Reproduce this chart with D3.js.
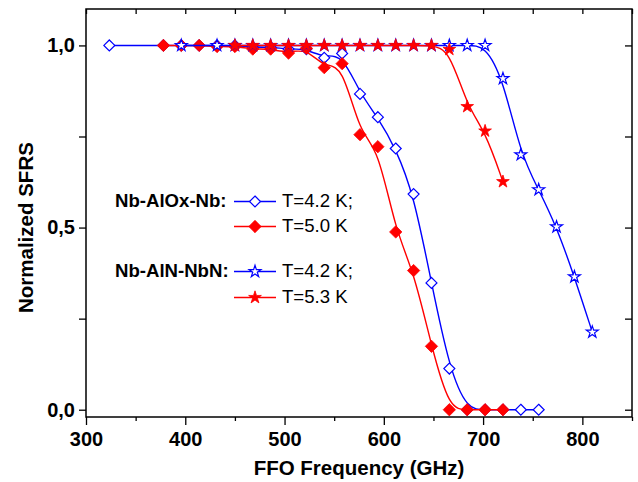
<!DOCTYPE html>
<html>
<head>
<meta charset="utf-8">
<script src="https://cdn.jsdelivr.net/npm/d3@7"></script>
<style>
  body { margin: 0; background: #fff; }
  text { font-family: Arial, 'Liberation Sans', sans-serif; fill: #000; }
</style>
</head>
<body>
<div id="chart"></div>
<script>
// Nb-AlOx-Nb, T=4.2 K
const freqAlOx42 = [323.5, 378, 396, 414, 432, 450, 468, 486, 504, 522, 540, 558,
  576, 594, 612, 630, 648, 666, 684, 702, 720, 738, 756];
const sfrsAlOx42 = [1.0, 1.0, 1.0, 1.0, 1.0, 1.0, 0.995, 0.995, 0.99, 0.99, 0.966, 0.978,
  0.867, 0.803, 0.717, 0.592, 0.348, 0.113, 0, 0, 0, 0, 0];
// Nb-AlOx-Nb, T=5.0 K
const freqAlOx50 = [378, 396, 414, 432, 450, 468, 486, 504, 522, 540, 558,
  576, 594, 612, 630, 648, 666, 684, 702, 720];
const sfrsAlOx50 = [1.0, 1.0, 1.0, 0.997, 0.997, 0.99, 0.99, 0.979, 0.992, 0.939, 0.95,
  0.755, 0.722, 0.488, 0.382, 0.174, 0, 0, 0, 0];
// Nb-AlN-NbN, T=4.2 K
const freqAlN42 = [396, 432, 450, 468, 486, 504, 522, 540, 558, 576, 594, 612, 630,
  648, 666, 684, 702, 720, 738, 756, 774, 792, 810];
const sfrsAlN42 = [1.0, 1.0, 1.0, 1.0, 1.0, 1.0, 1.0, 1.0, 1.0, 1.0, 1.0, 1.0, 1.0,
  1.0, 1.0, 1.0, 1.0, 0.909, 0.70, 0.604, 0.502, 0.365, 0.213];
// Nb-AlN-NbN, T=5.3 K
const freqAlN53 = [450, 468, 486, 504, 522, 540, 558, 576, 594, 612, 630, 648,
  666, 684, 702, 720];
const sfrsAlN53 = [1.0, 1.0, 1.0, 1.0, 1.0, 1.0, 1.0, 1.0, 1.0, 1.0, 1.0, 1.0,
  0.989, 0.832, 0.765, 0.626];

const xTicks = [300, 400, 500, 600, 700, 800];
const xMinorTicks = [350, 450, 550, 650, 750, 850];
const yTicks = [0, 0.25, 0.5, 0.75, 1];
const yLabelTicks = [0, 0.5, 1];
const legendGroups = ['Nb-AlOx-Nb:', 'Nb-AlN-NbN:'];
const legendLabels = ['T=4.2 K;', 'T=5.0 K', 'T=4.2 K;', 'T=5.3 K'];

const w = 638;
const h = 482;
const mLeft = 86;
const mRight = 632;
const mTop = 9;
const mBottom = 417;

const blue = '#0000ff';
const red = '#ff0000';

// square rotated 45 degrees, like Origin's diamond
const diamond = {
  draw(ctx, size) {
    const r = Math.sqrt(size) / 2 * Math.SQRT2;
    ctx.moveTo(0, -r);
    ctx.lineTo(r, 0);
    ctx.lineTo(0, r);
    ctx.lineTo(-r, 0);
    ctx.closePath();
  },
};

const zip = (xs, ys) => xs.map((x, i) => ({x: x, y: ys[i]}));

const series = [
  {data: zip(freqAlOx42, sfrsAlOx42), color: blue, symbol: diamond, size: 60, filled: false},
  {data: zip(freqAlOx50, sfrsAlOx50), color: red, symbol: diamond, size: 76, filled: true},
  {data: zip(freqAlN42, sfrsAlN42), color: blue, symbol: d3.symbolStar, size: 44, filled: false},
  {data: zip(freqAlN53, sfrsAlN53), color: red, symbol: d3.symbolStar, size: 50, filled: true},
];

const x = d3.scaleLinear().domain([300, 850]).range([mLeft, mRight]);
const y = d3.scaleLinear().domain([-0.02, 1.1]).range([mBottom, mTop]);

const comma = d3.formatLocale({decimal: ',', thousands: '.', grouping: [3], currency: ['', '']});
const fmtY = comma.format('.1f');

const svg = d3.select('#chart')
    .append('svg')
    .attr('width', w)
    .attr('height', h);

// axes
const axisStyle = (g) => {
  g.select('.domain').remove();
  g.selectAll('line').attr('stroke', '#000').attr('stroke-width', 1.3);
  g.selectAll('text')
      .style('font-size', '20px')
      .style('font-weight', 'bold')
      .attr('fill', '#000');
};

svg.append('g')
    .attr('transform', 'translate(0,' + mBottom + ')')
    .call(d3.axisBottom(x).tickValues(xTicks).tickSize(8).tickPadding(7)
        .tickFormat(d3.format('d')))
    .call(axisStyle);

svg.append('g')
    .attr('transform', 'translate(0,' + mBottom + ')')
    .call(d3.axisBottom(x).tickValues(xMinorTicks).tickSize(4).tickFormat(''))
    .call(axisStyle);

svg.append('g')
    .attr('transform', 'translate(0,' + mTop + ')')
    .call(d3.axisTop(x).tickValues(xTicks.concat(xMinorTicks)).tickSize(-5).tickFormat(''))
    .call(axisStyle);

svg.append('g')
    .attr('transform', 'translate(' + mLeft + ',0)')
    .call(d3.axisLeft(y).tickValues(yTicks).tickSize(7).tickPadding(4)
        .tickFormat((d) => yLabelTicks.includes(d) ? fmtY(d) : ''))
    .call(axisStyle);

svg.append('g')
    .attr('transform', 'translate(' + mRight + ',0)')
    .call(d3.axisRight(y).tickValues(yTicks).tickSize(-7).tickFormat(''))
    .call(axisStyle);

svg.append('rect')
    .attr('x', mLeft)
    .attr('y', mTop)
    .attr('width', mRight - mLeft)
    .attr('height', mBottom - mTop)
    .attr('fill', 'none')
    .attr('stroke', '#000')
    .attr('stroke-width', 1.5);

// axis titles
svg.append('text')
    .attr('x', (mLeft + mRight) / 2)
    .attr('y', 475)
    .attr('text-anchor', 'middle')
    .style('font-size', '20.5px')
    .style('font-weight', 'bold')
    .text('FFO Frequency (GHz)');

svg.append('text')
    .attr('transform', 'translate(33,' + y(0.5) + ') rotate(-90)')
    .attr('text-anchor', 'middle')
    .style('font-size', '20.5px')
    .style('font-weight', 'bold')
    .text('Normalized SFRS');

// curves and markers
const line = d3.line()
    .x((d) => x(d.x))
    .y((d) => y(d.y))
    .curve(d3.curveBasis);

series.forEach((s) => {
  const g = svg.append('g');
  g.append('path')
      .attr('d', line(s.data))
      .attr('fill', 'none')
      .attr('stroke', s.color)
      .attr('stroke-width', 1.4);
  g.selectAll('path.pt')
      .data(s.data)
      .enter()
      .append('path')
      .attr('class', 'pt')
      .attr('transform', (d) => 'translate(' + x(d.x) + ',' + y(d.y) + ')')
      .attr('d', d3.symbol(s.symbol, s.size))
      .attr('fill', s.filled ? s.color : '#fff')
      .attr('stroke', s.color)
      .attr('stroke-width', s.filled ? 0.8 : 1.2);
});

// legend
const legendRows = [207, 232, 277, 303];
legendGroups.forEach((t, i) => {
  svg.append('text')
      .attr('x', 115)
      .attr('y', legendRows[i * 2])
      .style('font-size', '18.6px')
      .style('font-weight', 'bold')
      .text(t);
});

series.forEach((s, i) => {
  const ly = legendRows[i] - 5.5;
  const g = svg.append('g');
  g.append('line')
      .attr('x1', 234)
      .attr('x2', 276)
      .attr('y1', ly)
      .attr('y2', ly)
      .attr('stroke', s.color)
      .attr('stroke-width', 1.4);
  g.append('path')
      .attr('transform', 'translate(255,' + ly + ')')
      .attr('d', d3.symbol(s.symbol, s.size))
      .attr('fill', s.filled ? s.color : '#fff')
      .attr('stroke', s.color)
      .attr('stroke-width', s.filled ? 0.8 : 1.2);
  g.append('text')
      .attr('x', 282)
      .attr('y', legendRows[i])
      .style('font-size', '18.6px')
      .text(legendLabels[i]);
});
</script>
</body>
</html>
